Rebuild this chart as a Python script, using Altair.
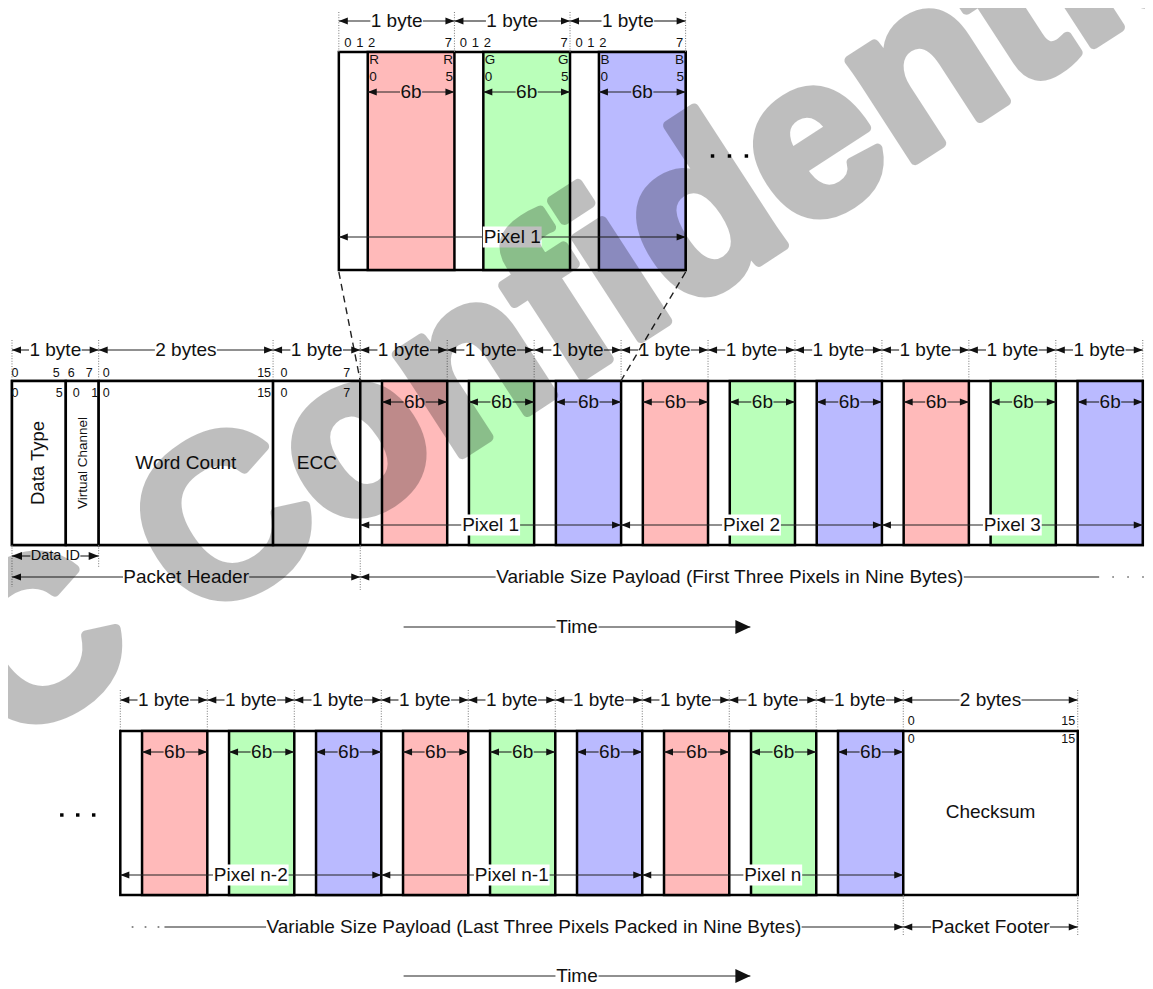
import altair as alt
import pandas as pd

# ---------------- data: labels and packet structure ----------------
header_fields = ["Data Type", "Virtual Channel", "Word Count", "ECC"]
header_spans = ["1 byte", "2 bytes", "1 byte"]
bit_row_a = ["0", "5", "6", "7", "0", "15", "0", "7"]
bit_row_b = ["0", "5", "0", "1", "0", "15", "0", "7"]
channels = ["R", "G", "B"]
component_bits = ["0", "1", "2", "7"]
channel_bits = ["0", "5"]
component_label = "6b"
byte_label = "1 byte"
first_pixels = ["Pixel 1", "Pixel 2", "Pixel 3"]
last_pixels = ["Pixel n-2", "Pixel n-1", "Pixel n"]
detail_pixel = "Pixel 1"
footer_span = "2 bytes"
footer_field = "Checksum"
footer_bits = ["0", "15"]
caption_data_id = "Data ID"
caption_header = "Packet Header"
caption_first = "Variable Size Payload (First Three Pixels in Nine Bytes)"
caption_last = "Variable Size Payload (Last Three Pixels Packed in Nine Bytes)"
caption_footer = "Packet Footer"
caption_time = "Time"
watermark = "C Confidential"

# ---------------- layout (reference pixel space) ----------------
FONT = "Liberation Sans"
INK = "#111111"
FILL = {"R": "#FFBABA", "G": "#BAFFBA", "B": "#BABAFF"}
FS = 19
BITFS = 12.5
CW = {' ': 278, '(': 333, ')': 333, '-': 333, 'A': 667, 'B': 667, 'C': 722, 'D': 722,
      'E': 667, 'F': 611, 'G': 778, 'H': 722, 'I': 278, 'N': 722, 'P': 667, 'R': 722,
      'S': 667, 'T': 611, 'V': 667, 'W': 944, 'a': 556, 'b': 556, 'c': 500, 'd': 556,
      'e': 556, 'f': 278, 'h': 556, 'i': 222, 'k': 500, 'l': 222, 'm': 833, 'n': 556,
      'o': 556, 'p': 556, 'r': 333, 's': 500, 't': 278, 'u': 556, 'x': 500, 'y': 500,
      'z': 500}

rects_white, rects_col, guides, dashes, lines, bgs, heads, texts, dots = [], [], [], [], [], [], [], [], []

HEAD_L = "M0,0L1,-0.4L1,0.4Z"
HEAD_R = "M0,0L-1,-0.4L-1,0.4Z"
HEAD_RB = "M0,0L-1,-0.47L-1,0.47Z"


def tw(s, fs):
    return sum(CW.get(c, 556) for c in s) / 1000.0 * fs


def text(x, y, s, fs=FS, align="center", angle=0):
    texts.append(dict(x=x, y=y, text=s, size=fs, align=align, angle=angle))


def arrow(x1, x2, y, label=None, fs=FS, left=True, right=True, bg=False, big=False, hl=9):
    cx = (x1 + x2) / 2
    if label:
        w = tw(label, fs)
        text(cx, y, label, fs)
        if bg:
            bgs.append(dict(x=cx - w / 2 - 1, x2=cx + w / 2 + 1, y=y - fs * 0.55, y2=y + fs * 0.55))
            lines.append(dict(x=x1, x2=x2, y=y, y2=y))
        else:
            lines.append(dict(x=x1, x2=cx - w / 2 - 0.5, y=y, y2=y))
            lines.append(dict(x=cx + w / 2 + 0.5, x2=x2, y=y, y2=y))
    else:
        lines.append(dict(x=x1, x2=x2, y=y, y2=y))
    if left:
        heads.append(dict(x=x1, y=y, shape=HEAD_L, size=(2 * hl) ** 2))
    if right:
        if big:
            heads.append(dict(x=x2, y=y, shape=HEAD_RB, size=(2 * 15) ** 2))
        else:
            heads.append(dict(x=x2, y=y, shape=HEAD_R, size=(2 * hl) ** 2))


def guide(x, y1, y2):
    guides.append(dict(x=x, x2=x, y=y1, y2=y2))


def payload_row(x0, bw, top, bot, comps, pixels, lab_y, six_y, pix_y, guide_top):
    edges = [x0 + k * bw for k in range(len(comps) + 1)]
    for k, ch in enumerate(comps):
        s = edges[k]
        rects_col.append(dict(x=s + bw / 4, x2=s + bw, y=top, y2=bot, fill=FILL[ch]))
        arrow(s, s + bw, lab_y, byte_label)
        arrow(s + bw / 4, s + bw, six_y, component_label)
    for e in edges:
        guide(e, guide_top, top)
    for p, name in enumerate(pixels):
        arrow(edges[3 * p], edges[3 * p + 3], pix_y, name, bg=True)
    return edges


# ---- top detail (one pixel, zoomed) ----
D_X0, D_BW, D_TOP, D_BOT = 340, 116, 52, 270
rects_white.append(dict(x=D_X0, x2=D_X0 + 3 * D_BW, y=D_TOP, y2=D_BOT))
d_edges = payload_row(D_X0, D_BW, D_TOP, D_BOT, channels, [], 21, 92, 237, 12)
arrow(D_X0, D_X0 + 3 * D_BW, 237, detail_pixel, bg=True)
for k, ch in enumerate(channels):
    s = d_edges[k]
    for lab, off in zip(component_bits, [9, 21, 33, 110]):
        text(s + off, 43, lab, 13)
    text(s + 30.5, 60, ch, 13.5, "left")
    text(s + 30.5, 77, channel_bits[0], 13.5, "left")
    text(s + 114.5, 60, ch, 13.5, "right")
    text(s + 114.5, 77, channel_bits[1], 13.5, "right")
for dx in [715, 732, 749]:
    dots.append(dict(x=dx, y=156, size=12, color="#000000"))
dashes.append(dict(x=340, y=272, x2=361.5, y2=381))
dashes.append(dict(x=688, y=272, x2=623, y2=381))

# ---- middle row: header + first three pixels ----
M_TOP, M_BOT = 381, 545
h_edges = [12, 66, 99, 274, 361.5]
span_edges = [12, 99, 274, 361.5]
rects_white.append(dict(x=12, x2=1146.8, y=M_TOP, y2=M_BOT))
for a, b in zip(h_edges[:-1], h_edges[1:]):
    rects_white.append(dict(x=a, x2=b, y=M_TOP, y2=M_BOT))
for lab, a, b in zip(header_spans, span_edges[:-1], span_edges[1:]):
    arrow(a, b, 350, lab)
for e in span_edges:
    guide(e, 340, M_TOP)
m_edges = payload_row(361.5, 87.25, M_TOP, M_BOT, channels * 3, first_pixels, 350, 402, 525, 340)
for lab, x in zip(bit_row_a, [15, 56.5, 71.5, 89.5, 106.5, 265, 285, 348]):
    text(x, 373, lab, BITFS)
for lab, x in zip(bit_row_b, [15, 59.5, 76.5, 95, 106.5, 265, 285, 348]):
    text(x, 393, lab, BITFS)
text(38, 463, header_fields[0], 18.5, angle=270)
text(83, 463, header_fields[1], 13.5, angle=270)
text(186.5, 463, header_fields[2], FS)
text(318, 463, header_fields[3], FS)
guide(12, M_BOT, 587)
guide(99, M_BOT, 567)
guide(361.5, M_BOT, 590)
arrow(12, 99, 556, caption_data_id, fs=14.5, hl=10)
arrow(12, 361.5, 577, caption_header)
arrow(361.5, 1103, 577, caption_first, right=False)
for dx in [1117, 1132, 1147]:
    dots.append(dict(x=dx, y=577, size=3, color="#777777"))
arrow(405, 753, 627, caption_time, left=False, big=True)

# ---- bottom row: last three pixels + footer ----
B_TOP, B_BOT = 731, 895
rects_white.append(dict(x=120.7, x2=1081.5, y=B_TOP, y2=B_BOT))
b_edges = payload_row(120.7, 87.3, B_TOP, B_BOT, channels * 3, last_pixels, 700, 752, 875, 690)
arrow(b_edges[-1], 1081.5, 700, footer_span)
guide(1081.5, 690, B_TOP)
guide(b_edges[-1], B_BOT, 935)
guide(1081.5, B_BOT, 935)
text(994, 812, footer_field, FS)
for yy in [721, 739]:
    text(911, yy, footer_bits[0], BITFS, "left")
    text(1079, yy, footer_bits[1], BITFS, "right")
for dx in [62, 78, 94]:
    dots.append(dict(x=dx, y=815, size=12, color="#000000"))
for dx in [133, 146, 159]:
    dots.append(dict(x=dx, y=927, size=3, color="#777777"))
arrow(165, b_edges[-1], 927, caption_last, left=False)
arrow(b_edges[-1], 1081.5, 927, caption_footer)
arrow(405, 753, 976, caption_time, left=False, big=True)

# ---------------- chart ----------------
XS = alt.Scale(domain=[8, 1149], nice=False, zero=False)
YS = alt.Scale(domain=[8, 989], nice=False, zero=False, reverse=True)


def enc(**kw):
    e = dict(x=alt.X("x:Q", scale=XS, axis=None), y=alt.Y("y:Q", scale=YS, axis=None))
    e.update(kw)
    return e


white = alt.Chart(pd.DataFrame(rects_white)).mark_rect(
    fill="white", stroke="black", strokeWidth=2.5).encode(**enc(x2="x2:Q", y2="y2:Q"))
colored = alt.Chart(pd.DataFrame(rects_col)).mark_rect(
    stroke="black", strokeWidth=2.5).encode(**enc(x2="x2:Q", y2="y2:Q",
                                                  fill=alt.Fill("fill:N", scale=None)))
guide_l = alt.Chart(pd.DataFrame(guides)).mark_rule(
    color="#777777", strokeWidth=1, strokeDash=[1, 1.6]).encode(**enc(x2="x2:Q", y2="y2:Q"))
dash_l = alt.Chart(pd.DataFrame(dashes)).mark_rule(
    color="#222222", strokeWidth=1.4, strokeDash=[7, 5]).encode(**enc(x2="x2:Q", y2="y2:Q"))
arrow_l = alt.Chart(pd.DataFrame(lines)).mark_rule(
    color="#222222", strokeWidth=1.1).encode(**enc(x2="x2:Q", y2="y2:Q"))
bg_l = alt.Chart(pd.DataFrame(bgs)).mark_rect(fill="white").encode(**enc(x2="x2:Q", y2="y2:Q"))
head_l = alt.Chart(pd.DataFrame(heads)).mark_point(
    filled=True, opacity=1, color=INK, strokeWidth=0).encode(
    **enc(shape=alt.Shape("shape:N", scale=None), size=alt.Size("size:Q", scale=None)))
dot_l = alt.Chart(pd.DataFrame(dots)).mark_square(filled=True, opacity=1).encode(
    **enc(size=alt.Size("size:Q", scale=None), color=alt.Color("color:N", scale=None)))

tdf = pd.DataFrame(texts)
text_layers = []
for al in ["left", "center", "right"]:
    sub = tdf[tdf["align"] == al]
    if len(sub):
        text_layers.append(alt.Chart(sub).mark_text(
            align=al, baseline="middle", font=FONT, color=INK).encode(
            **enc(text="text:N", size=alt.Size("size:Q", scale=None),
                  angle=alt.Angle("angle:Q", scale=None))))

wm = alt.Chart(pd.DataFrame([dict(x=7, y=750, text=watermark)])).mark_text(
    align="left", baseline="alphabetic", font=FONT, fontWeight="bold", fontSize=226,
    angle=327, color="black", stroke="black", strokeWidth=10, strokeJoin="round",
    opacity=0.25).encode(**enc(text="text:N"))

chart = alt.layer(white, colored, guide_l, dash_l, arrow_l, bg_l, head_l, dot_l,
                  *text_layers, wm).properties(
    width=1137, height=981, padding=0, background="white",
    autosize=alt.AutoSizeParams(type="none")).configure_view(stroke=None)

chart.save("out.html", embed_options={"renderer": "svg", "actions": False})
